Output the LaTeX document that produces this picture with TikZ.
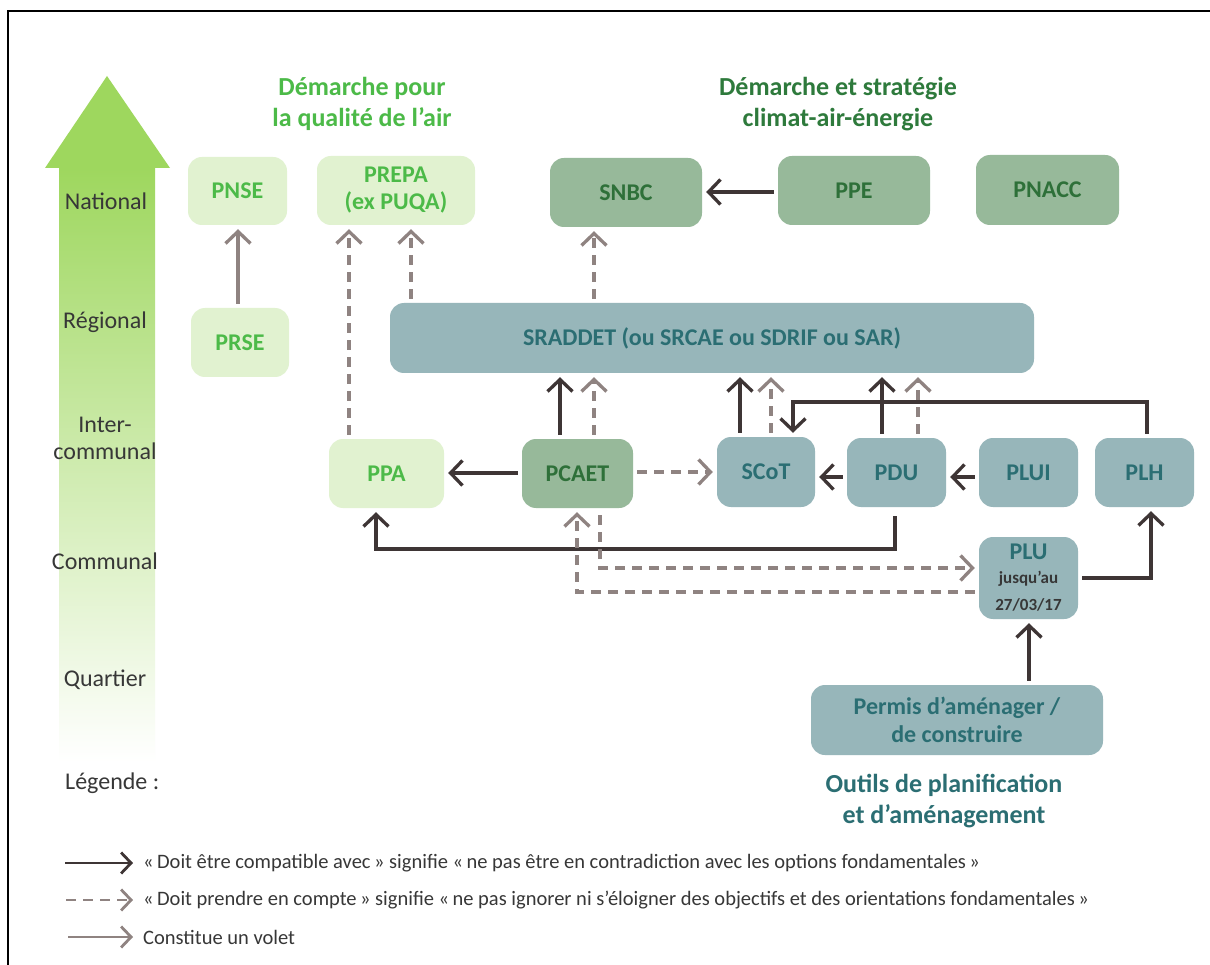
\documentclass[tikz,border=0pt]{standalone}
\usepackage{fontspec}
\setmainfont{Carlito}
\usetikzlibrary{arrows.meta,calc}
\definecolor{arrowgreen}{RGB}{158,215,94}
\definecolor{lgfill}{RGB}{225,242,208}
\definecolor{lgtext}{RGB}{76,186,72}
\definecolor{mgfill}{RGB}{151,185,154}
\definecolor{mgtext}{RGB}{46,112,57}
\definecolor{mghead}{RGB}{46,122,60}
\definecolor{tlfill}{RGB}{151,182,186}
\definecolor{tltext}{RGB}{43,110,115}
\definecolor{dkline}{RGB}{62,53,53}
\definecolor{grline}{RGB}{143,131,129}
\definecolor{axistext}{RGB}{55,55,55}
\begin{document}
\begin{tikzpicture}[x=1pt,y=-1pt,
  box/.style={rectangle, rounded corners=14pt, align=center, inner sep=0pt,
    font=\fontsize{24}{27}\selectfont\bfseries},
  lgbox/.style={box, fill=lgfill, text=lgtext},
  mgbox/.style={box, fill=mgfill, text=mgtext},
  tlbox/.style={box, fill=tlfill, text=tltext},
  dk/.style={draw=dkline, line width=3.3pt, -{Straight Barb[length=12pt,width=25pt]},
    shorten >=4pt, shorten <=4pt},
  gr/.style={draw=grline, line width=3.3pt, -{Straight Barb[length=12pt,width=25pt]},
    shorten >=4pt, shorten <=4pt},
  dsh/.style={gr, dash pattern=on 10pt off 7pt},
  axis/.style={text=axistext, font=\fontsize{24}{27}\selectfont, align=center},
  head/.style={align=center, font=\fontsize{26}{31}\selectfont\bfseries},
  legtext/.style={anchor=west, text=axistext, font=\fontsize{20.5}{24}\selectfont, inner sep=0pt}
]
\useasboundingbox (0,0) rectangle (1210,965);
\fill[white] (0,0) rectangle (1210,965);
% frame
\draw[line width=2pt, black] (8,965) -- (8,11) -- (1210,11);

% big level arrow
\shade[top color=arrowgreen, bottom color=white] (59,167.5) rectangle (155,762);
\fill[arrowgreen] (45,168) -- (107,76) -- (170,168) -- cycle;

% axis labels
\node[axis] (nat) at (106,201) {National};
\node[axis] (reg) at (105,322) {Régional};
\node[axis] (inter) at (105,438) {Inter-\\communal};
\node[axis] (com) at (105,561) {Communal};
\node[axis] (quart) at (105,680) {Quartier};

% headings
\node[head, text=lgtext] (h1) at (362,104) {Démarche pour\\la qualité de l’air};
\node[head, text=mghead] (h2) at (838,104) {Démarche et stratégie\\climat-air-énergie};
\node[head, text=tltext] (h3) at (944,801) {Outils de planification\\et d’aménagement};

% boxes
\node[lgbox, minimum width=99pt, minimum height=68pt] (PNSE) at (237.5,191) {PNSE};
\node[lgbox, minimum width=158pt, minimum height=69pt] (PREPA) at (396,190.5) {PREPA\\(ex PUQA)};
\node[lgbox, minimum width=98pt, minimum height=69pt] (PRSE) at (240,342.5) {PRSE};
\node[mgbox, minimum width=152pt, minimum height=69pt] (SNBC) at (626,192.5) {SNBC};
\node[mgbox, minimum width=152pt, minimum height=69pt] (PPE) at (854,190.5) {PPE};
\node[mgbox, minimum width=143pt, minimum height=70pt] (PNACC) at (1047.5,190) {PNACC};
\node[tlbox, minimum width=644pt, minimum height=70pt] (SRADDET) at (712,338) {SRADDET (ou SRCAE ou SDRIF ou SAR)};
\node[lgbox, minimum width=115pt, minimum height=69pt] (PPA) at (386.5,473.5) {PPA};
\node[mgbox, minimum width=111pt, minimum height=69pt] (PCAET) at (577.5,473.5) {PCAET};
\node[tlbox, minimum width=98pt, minimum height=70pt] (SCoT) at (766,472) {SCoT};
\node[tlbox, minimum width=99pt, minimum height=69pt] (PDU) at (896.5,472.5) {PDU};
\node[tlbox, minimum width=99pt, minimum height=69pt] (PLUI) at (1028.5,472.5) {PLUI};
\node[tlbox, minimum width=99pt, minimum height=69pt] (PLH) at (1144.5,472.5) {PLH};
\node[tlbox, minimum width=99pt, minimum height=82pt] (PLU) at (1028.5,578) {PLU\\[-3pt]{\color{axistext}\fontsize{17}{20}\selectfont jusqu’au}\\{\color{axistext}\fontsize{17}{20}\selectfont 27/03/17}};
\node[tlbox, minimum width=292pt, minimum height=70pt, font=\fontsize{24}{28}\selectfont\bfseries] (Permis) at (957,720) {Permis d’aménager /\\de construire};

% connectors
\draw[gr] (238,0 |- PRSE.north) -- (238,0 |- PNSE.south);
\draw[dsh] (349,0 |- PPA.north) -- (349,0 |- PREPA.south);
\draw[dsh] (411,0 |- SRADDET.north) -- (411,0 |- PREPA.south);
\draw[dsh] (594,0 |- SRADDET.north) -- (594,0 |- SNBC.south);
\draw[dk] (PPE.west |- 0,192) -- (SNBC.east |- 0,192);

\draw[dk] (560,0 |- PCAET.north) -- (560,0 |- SRADDET.south);
\draw[dsh] (594,0 |- PCAET.north) -- (594,0 |- SRADDET.south);
\draw[dk] (740,0 |- SCoT.north) -- (740,0 |- SRADDET.south);
\draw[dsh] (771,0 |- SCoT.north) -- (771,0 |- SRADDET.south);
\draw[dk] (882,0 |- PDU.north) -- (882,0 |- SRADDET.south);
\draw[dsh] (918,0 |- PDU.north) -- (918,0 |- SRADDET.south);

\draw[dk] (1147,0 |- PLH.north) -- (1147,402) -- (793,402) -- (793,0 |- SCoT.north);

\draw[dk] (PCAET.west |- 0,473) -- (PPA.east |- 0,473);
\draw[dsh] (PCAET.east |- 0,472) -- (SCoT.west |- 0,472);
\draw[dk] (PDU.west |- 0,477) -- (SCoT.east |- 0,477);
\draw[dk] (PLUI.west |- 0,477) -- (PDU.east |- 0,477);

\draw[dk, shorten <=9pt] (895,0 |- PDU.south) -- (895,549) -- (376,549) -- (376,0 |- PPA.south);
\draw[dsh, shorten <=7pt] (600,0 |- PCAET.south) -- (600,568) -- (PLU.west |- 0,568);
\draw[dsh] (PLU.west |- 0,592) -- (577,592) -- (577,0 |- PCAET.south);
\draw[dk] (PLU.east |- 0,578) -- (1151,578) -- (1151,0 |- PLH.south);
\draw[dk] (1029,0 |- Permis.north) -- (1029,0 |- PLU.south);

% legend
\node[anchor=west, text=axistext, font=\fontsize{24}{27}\selectfont, inner sep=0pt] (leg) at (65,783) {Légende :};
\node[legtext] (leg1) at (143,863) {«\,Doit être compatible avec\,» signifie «\,ne pas être en contradiction avec les options fondamentales\,»};
\node[legtext] (leg2) at (143,900) {«\,Doit prendre en compte\,» signifie «\,ne pas ignorer ni s’éloigner des objectifs et des orientations fondamentales\,»};
\node[legtext] (leg3) at (143,937) {Constitue un volet};
\coordinate (l1) at (65,863);
\coordinate (l2) at (66,900);
\coordinate (l3) at (68,937);
\draw[dk, shorten <=0pt, shorten >=10pt, -{Straight Barb[length=10pt,width=21pt]}, line width=2.8pt] (l1) -- (leg1.west);
\draw[dsh, shorten <=0pt, shorten >=10pt, -{Straight Barb[length=10pt,width=21pt]}, line width=2.8pt] (l2) -- (leg2.west);
\draw[gr, shorten <=0pt, shorten >=10pt, -{Straight Barb[length=10pt,width=21pt]}, line width=2.8pt] (l3) -- (leg3.west);
\end{tikzpicture}
\end{document}
